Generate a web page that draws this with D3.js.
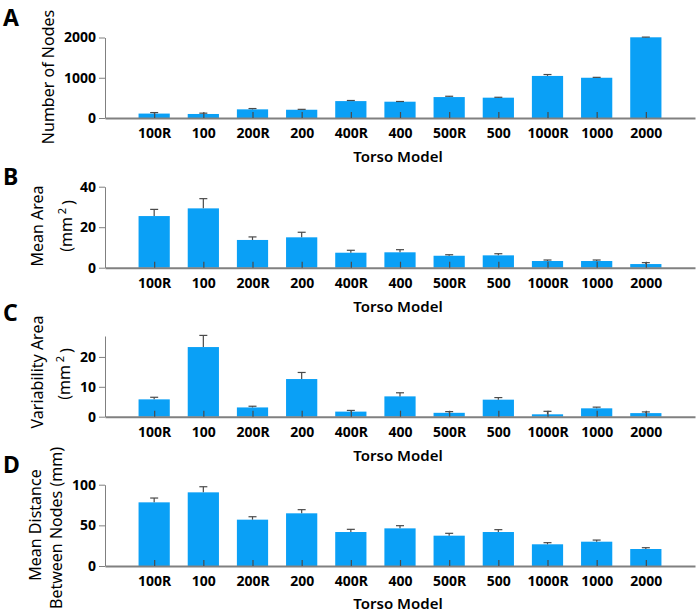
<!DOCTYPE html>
<html>
<head>
<meta charset="utf-8">
<script src="https://cdn.jsdelivr.net/npm/d3@7"></script>
<style>
  body { margin: 0; background: #fff; }
  text { font-family: "Noto Sans", "Open Sans", sans-serif; fill: #000; }
  .tick-lbl { font-size: 14px; font-weight: bold; }
  .axis-title { font-size: 15px; font-weight: 600; }
  .y-title { font-size: 16px; }
  .letter { font-size: 23px; font-weight: bold; }
</style>
</head>
<body>
<div id="chart"></div>
<script>
var w = 699;
var h = 613;

// categories
var models = ["100R", "100", "200R", "200", "400R", "400", "500R", "500", "1000R", "1000", "2000"];

// A: number of nodes
var nodeCount    = [110, 100, 215, 205, 420, 405, 520, 505, 1045, 1000, 2005];
var nodeCountErr = [25, 20, 20, 10, 15, 5, 20, 10, 35, 10, 5];
var nodeTicks    = [0, 1000, 2000];

// B: mean area (mm^2)
var meanArea    = [25.5, 29.3, 13.7, 15.0, 7.4, 7.6, 5.9, 6.1, 3.3, 3.3, 1.8];
var meanAreaErr = [3.3, 4.8, 1.5, 2.5, 1.2, 1.3, 0.5, 0.8, 0.5, 0.5, 0.7];
var areaTicks   = [0, 20, 40];

// C: variability area (mm^2)
var varArea    = [5.8, 23.3, 3.1, 12.6, 1.7, 6.8, 1.3, 5.7, 0.8, 2.8, 1.2];
var varAreaErr = [0.7, 3.9, 0.4, 2.2, 0.4, 1.2, 0.4, 0.7, 1.0, 0.4, 0.4];
var varTicks   = [0, 10, 20];

// D: mean distance between nodes (mm)
var meanDist    = [78.3, 90.6, 57.0, 64.8, 41.8, 46.3, 37.3, 41.8, 26.7, 29.9, 20.9];
var meanDistErr = [5.3, 6.9, 3.6, 4.5, 3.3, 3.3, 2.9, 2.9, 2.0, 2.0, 1.6];
var distTicks   = [0, 50, 100];

var panels = [
  { letter: "A", values: nodeCount, errs: nodeCountErr, ticks: nodeTicks, max: 2000,
    base: 118, top: 37.5, letterY: 26, titles: [{ text: "Number of Nodes", x: 48, y: 77 }] },
  { letter: "B", values: meanArea, errs: meanAreaErr, ticks: areaTicks, max: 40,
    base: 267.7, top: 186.7, letterY: 185, titles: [{ text: "Mean Area", x: 37, y: 226 }, { text: "(mm", sup: true, x: 66, y: 226 }] },
  { letter: "C", values: varArea, errs: varAreaErr, ticks: varTicks, max: 27,
    base: 416.7, top: 336, letterY: 321, titles: [{ text: "Variability Area", x: 37, y: 372 }, { text: "(mm", sup: true, x: 64, y: 374 }] },
  { letter: "D", values: meanDist, errs: meanDistErr, ticks: distTicks, max: 100,
    base: 566, top: 484.7, letterY: 473, titles: [{ text: "Mean Distance", x: 35, y: 525 }, { text: "Between Nodes (mm)", x: 56, y: 528 }] }
];

var svg = d3.select("#chart")
    .append("svg")
    .attr("width", w)
    .attr("height", h);

var left = 105, right = 695;
var barColor = "#0aa0f6";
var axisColor = "#808080";
var errColor = "#4a4a4a";

// shared x scale
var xScale = d3.scalePoint()
    .domain(models)
    .range([left, right])
    .padding(1);
var barW = xScale.step() * 0.635;

panels.forEach(function(p) {
  var yScale = d3.scaleLinear().domain([0, p.max]).range([p.base, p.top]);
  var g = svg.append("g");

  // bars
  g.selectAll("rect")
    .data(p.values)
    .enter().append("rect")
    .attr("x", function(d, i) { return xScale(models[i]) - barW / 2; })
    .attr("y", function(d) { return yScale(d); })
    .attr("width", barW)
    .attr("height", function(d) { return p.base - yScale(d); })
    .style("fill", barColor);

  // error bars (upper only)
  var eb = g.selectAll(".err")
    .data(p.values)
    .enter().append("g")
    .attr("class", "err");
  eb.append("line")
    .attr("x1", function(d, i) { return xScale(models[i]); })
    .attr("x2", function(d, i) { return xScale(models[i]); })
    .attr("y1", function(d) { return yScale(d); })
    .attr("y2", function(d, i) { return yScale(d + p.errs[i]); })
    .style("stroke", errColor).style("stroke-width", 1.2);
  eb.append("line")
    .attr("x1", function(d, i) { return xScale(models[i]) - 4; })
    .attr("x2", function(d, i) { return xScale(models[i]) + 4; })
    .attr("y1", function(d, i) { return yScale(d + p.errs[i]); })
    .attr("y2", function(d, i) { return yScale(d + p.errs[i]); })
    .style("stroke", errColor).style("stroke-width", 1.2);

  // y axis
  var yAxis = g.append("g")
    .attr("transform", "translate(" + left + ",0)")
    .call(d3.axisLeft(yScale).tickValues(p.ticks).tickFormat(d3.format("d"))
      .tickSize(6).tickPadding(3).tickSizeOuter(0));
  yAxis.attr("font-family", null).attr("font-size", null);
  yAxis.select(".domain").style("stroke", axisColor);
  yAxis.selectAll(".tick line").style("stroke", axisColor);
  yAxis.selectAll("text").attr("class", "tick-lbl");

  // x axis: inner ticks at bar centres
  var xAxis = g.append("g")
    .attr("transform", "translate(0," + p.base + ")")
    .call(d3.axisBottom(xScale).tickSize(-6).tickPadding(12).tickSizeOuter(0));
  xAxis.attr("font-family", null).attr("font-size", null);
  xAxis.select(".domain").style("stroke", axisColor).style("stroke-width", 2);
  xAxis.selectAll(".tick line").style("stroke", errColor).style("stroke-width", 1.2);
  xAxis.selectAll("text").attr("class", "tick-lbl").attr("dy", "0.35em").attr("y", 15);

  // x title
  g.append("text")
    .attr("class", "axis-title")
    .attr("x", 398)
    .attr("y", Math.min(p.base + 39, h - 9))
    .attr("dy", "0.35em")
    .attr("text-anchor", "middle")
    .text("Torso Model");

  // y titles
  p.titles.forEach(function(t) {
    var tx = g.append("text")
      .attr("class", "y-title")
      .attr("text-anchor", "middle")
      .attr("dy", "0.35em")
      .attr("transform", "translate(" + t.x + "," + t.y + ") rotate(-90)")
      .text(t.text);
    if (t.sup) {
      tx.append("tspan").attr("dy", "-0.5em").attr("font-size", "11px").text(" 2 ");
      tx.append("tspan").attr("dy", "0.5em").text(")");
    }
  });

  // panel letter
  g.append("text")
    .attr("class", "letter")
    .attr("x", 3)
    .attr("y", p.letterY)
    .text(p.letter);
});
</script>
</body>
</html>
